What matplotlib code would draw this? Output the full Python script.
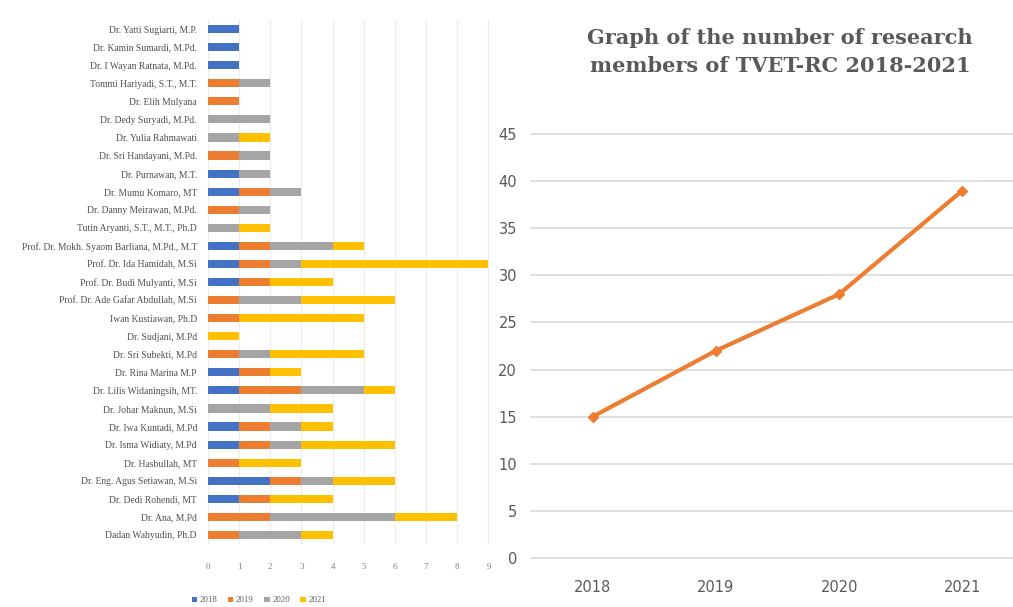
import matplotlib
matplotlib.use("Agg")
import matplotlib.pyplot as plt
import numpy as np
from matplotlib import font_manager

names = [
    "Dr. Yatti Sugiarti, M.P.", "Dr. Kamin Sumardi, M.Pd.", "Dr. I Wayan Ratnata, M.Pd.",
    "Tommi Hariyadi, S.T., M.T.", "Dr. Elih Mulyana", "Dr. Dedy Suryadi, M.Pd.",
    "Dr. Yulia Rahmawati", "Dr. Sri Handayani, M.Pd.", "Dr. Purnawan, M.T.",
    "Dr. Mumu Komaro, MT", "Dr. Danny Meirawan, M.Pd.", "Tutin Aryanti, S.T., M.T., Ph.D",
    "Prof. Dr. Mokh. Syaom Barliana, M.Pd., M.T", "Prof. Dr. Ida Hamidah, M.Si",
    "Prof. Dr. Budi Mulyanti, M.Si", "Prof. Dr. Ade Gafar Abdullah, M.Si",
    "Iwan Kustiawan, Ph.D", "Dr. Sudjani, M.Pd", "Dr. Sri Subekti, M.Pd",
    "Dr. Rina Marina M.P", "Dr. Lilis Widaningsih, MT.", "Dr. Johar Maknun, M.Si",
    "Dr. Iwa Kuntadi, M.Pd", "Dr. Isma Widiaty, M.Pd", "Dr. Hasbullah, MT",
    "Dr. Eng. Agus Setiawan, M.Si", "Dr. Dedi Rohendi, MT", "Dr. Ana, M.Pd",
    "Dadan Wahyudin, Ph.D",
]
v2018 = [1, 1, 1, 0, 0, 0, 0, 0, 1, 1, 0, 0, 1, 1, 1, 0, 0, 0, 0, 1, 1, 0, 1, 1, 0, 2, 1, 0, 0]
v2019 = [0, 0, 0, 1, 1, 0, 0, 1, 0, 1, 1, 0, 1, 1, 1, 1, 1, 0, 1, 1, 2, 0, 1, 1, 1, 1, 1, 2, 1]
v2020 = [0, 0, 0, 1, 0, 2, 1, 1, 1, 1, 1, 1, 2, 1, 0, 2, 0, 0, 1, 0, 2, 2, 1, 1, 0, 1, 0, 4, 2]
v2021 = [0, 0, 0, 0, 0, 0, 1, 0, 0, 0, 0, 1, 1, 6, 2, 3, 4, 1, 3, 1, 1, 2, 1, 3, 2, 2, 2, 2, 1]
series_labels = ["2018", "2019", "2020", "2021"]

years = ["2018", "2019", "2020", "2021"]
totals = [15, 22, 28, 39]
title_text = "Graph of the number of research\nmembers of TVET-RC 2018-2021"

colors = ["#4472C4", "#ED7D31", "#A5A5A5", "#FFC000"]

avail = {f.name for f in font_manager.fontManager.ttflist}
narrow = "Liberation Sans Narrow" if "Liberation Sans Narrow" in avail else "DejaVu Sans"

W, H = 1013, 607
fig = plt.figure(figsize=(W / 100, H / 100), dpi=100)

# ---- left: stacked horizontal bars ----
ax1 = fig.add_axes([208 / W, 1 - 544 / H, (490 - 208) / W, (544 - 20) / H])
y = np.arange(len(names))
left = np.zeros(len(names))
for vals, c, lab in zip([v2018, v2019, v2020, v2021], colors, series_labels):
    ax1.barh(y, vals, left=left, color=c, height=0.45, label=lab, zorder=3)
    left += np.array(vals)
ax1.set_ylim(len(names) - 0.5, -0.5)
ax1.set_xlim(0, 9.05)
ax1.set_xticks(range(10))
ax1.set_yticks(y)
ax1.set_yticklabels(names, fontsize=6.9, family="Liberation Serif", color="#505050")
ax1.tick_params(axis="x", labelsize=6.5, colors="#7f7f7f", length=0, pad=14)
ax1.tick_params(axis="y", length=0, pad=8)
for lbl in ax1.get_xticklabels():
    lbl.set_family("Liberation Serif")
ax1.grid(axis="x", color="#ececec", linewidth=0.8, zorder=0)
for s in ax1.spines.values():
    s.set_visible(False)
leg = ax1.legend(loc="upper left", bbox_to_anchor=(-0.085, -0.085), ncol=4, frameon=False,
                 handlelength=0.6, handleheight=0.6, handletextpad=0.3,
                 columnspacing=1.2, prop={"family": "Liberation Serif", "size": 6.3})
for t in leg.get_texts():
    t.set_color("#595959")

# ---- right: line chart ----
ax2 = fig.add_axes([531 / W, 1 - 558 / H, (1024 - 531) / W, (558 - 134) / H])
x = np.arange(len(years))
ax2.plot(x, totals, color="#ED7D31", linewidth=3, marker="D", markersize=5, zorder=3)
ax2.set_xlim(-0.5, 3.5)
ax2.set_ylim(0, 45)
ax2.set_yticks(range(0, 46, 5))
ax2.set_xticks(x)
ax2.set_xticklabels(years)
ax2.grid(axis="y", color="#d9d9d9", linewidth=1.2, zorder=0)
for gl in ax2.get_ygridlines():
    gl.set_clip_on(False)
for s in ax2.spines.values():
    s.set_visible(False)
ax2.tick_params(length=0, labelsize=10.5, colors="#595959")
ax2.tick_params(axis="y", pad=10)
ax2.tick_params(axis="x", pad=16)
for lbl in ax2.get_xticklabels() + ax2.get_yticklabels():
    lbl.set_family(narrow)

fig.text(780 / W, 1 - 52 / H, title_text, ha="center", va="center", fontsize=15,
         fontweight="bold", family="DejaVu Serif", color="#595959", linespacing=1.45)

fig.savefig("out.png", dpi=100)
